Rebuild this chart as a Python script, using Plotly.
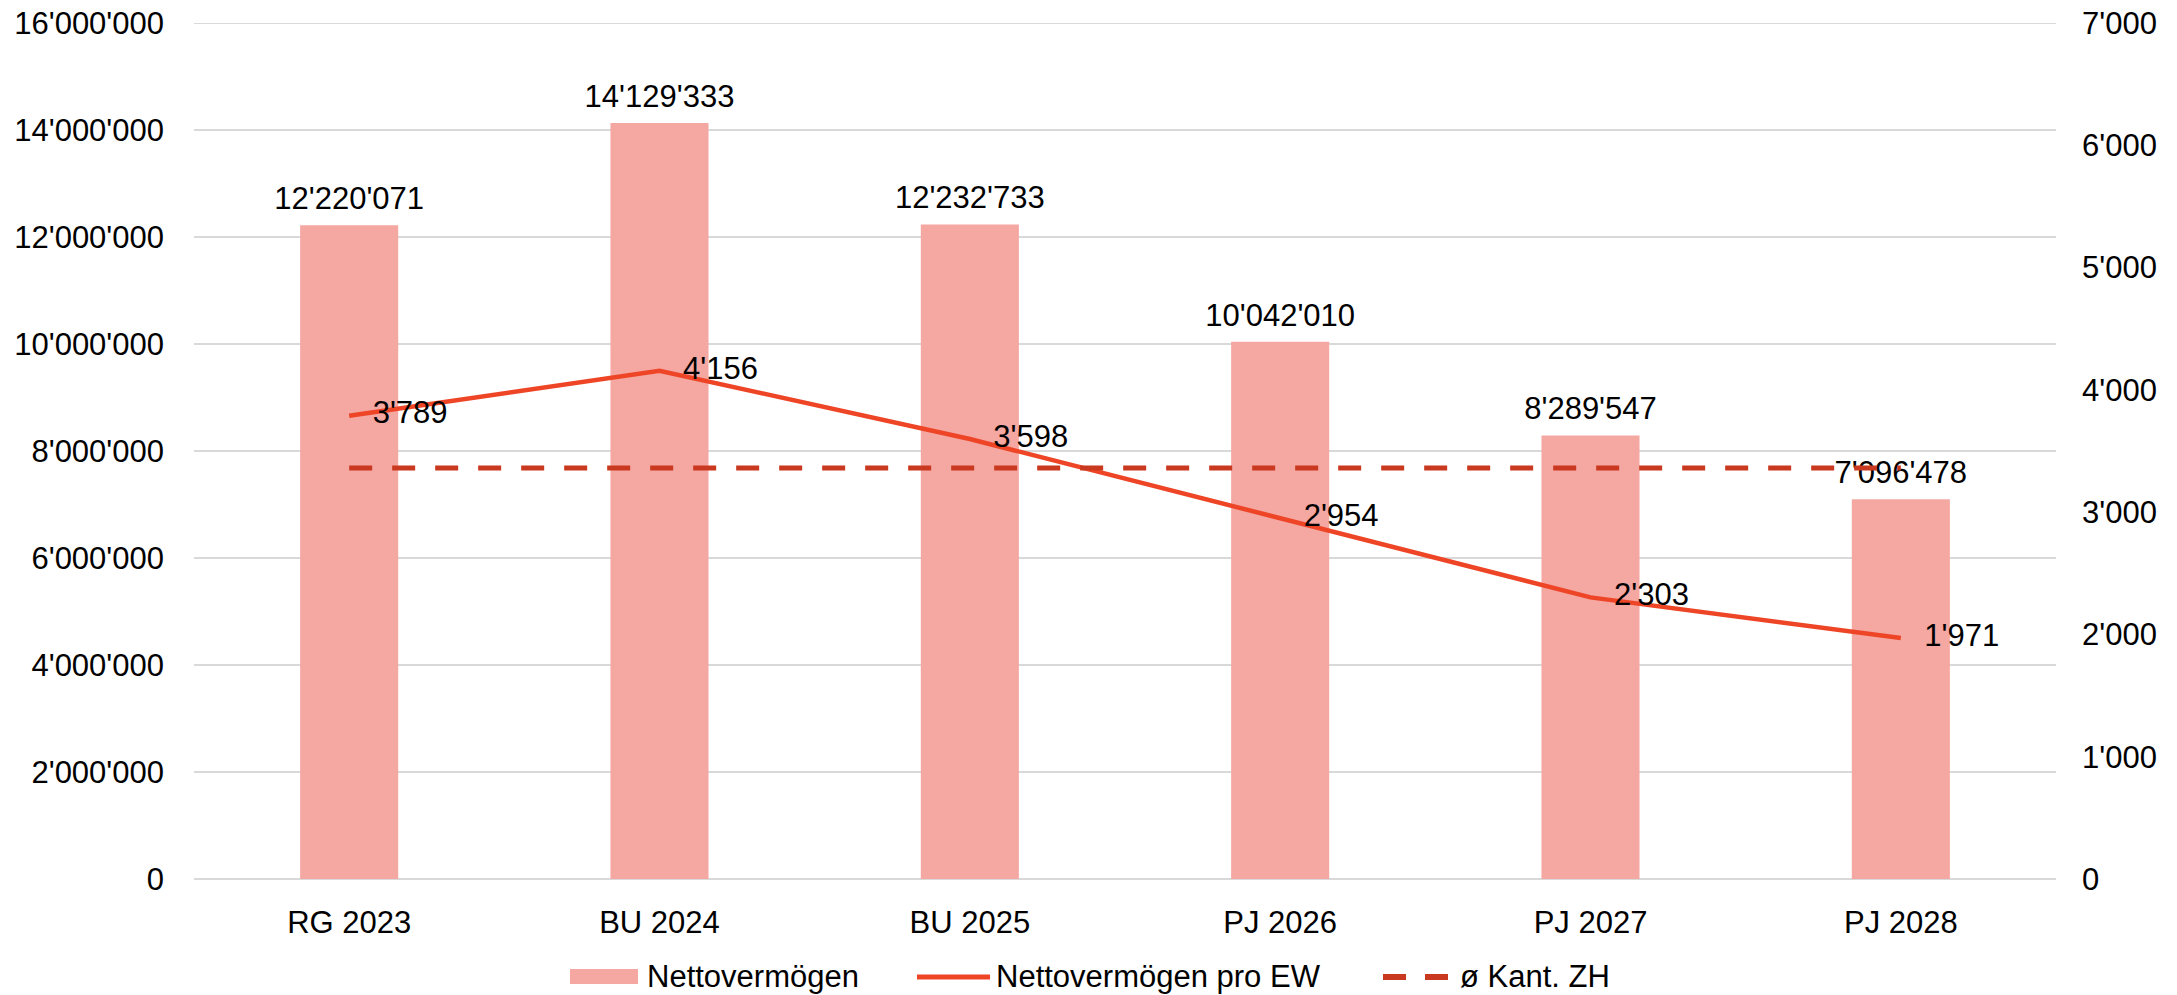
import plotly.graph_objects as go

categories = ["RG 2023", "BU 2024", "BU 2025", "PJ 2026", "PJ 2027", "PJ 2028"]
nettovermoegen = [12220071, 14129333, 12232733, 10042010, 8289547, 7096478]
pro_ew = [3789, 4156, 3598, 2954, 2303, 1971]
kant_zh = [3360, 3360, 3360, 3360, 3360, 3360]

left_ticks = [0, 2000000, 4000000, 6000000, 8000000, 10000000, 12000000, 14000000, 16000000]
right_ticks = [0, 1000, 2000, 3000, 4000, 5000, 6000, 7000]

series_names = ["Nettovermögen", "Nettovermögen pro EW", "ø Kant. ZH"]
BAR_COLOR = "#F5A7A2"
LINE_COLOR = "#EE4527"
DASH_COLOR = "#C9391F"
GRID_COLOR = "#D9D9D9"


def fmt(v):
    return f"{v:,}".replace(",", "'")


FONT = "Liberation Sans, Arial, sans-serif"
FS = 31
W, H = 2177, 995
ML, MT = 194, 23
MR = W - 2056
MB = H - 879
PW = W - ML - MR
PH = H - MT - MB

fig = go.Figure()
fig.add_trace(go.Bar(
    x=categories, y=nettovermoegen, name=series_names[0],
    marker=dict(color=BAR_COLOR, line=dict(width=0)),
    yaxis="y", showlegend=False,
))
fig.add_trace(go.Scatter(
    x=categories, y=nettovermoegen, name=series_names[0] + " labels", mode="markers+text",
    marker=dict(size=12, color="rgba(0,0,0,0)"),
    text=[fmt(v) for v in nettovermoegen], textposition="top center",
    textfont=dict(family=FONT, size=FS, color="#000000"),
    yaxis="y", cliponaxis=False, showlegend=False, hoverinfo="skip",
))
fig.add_trace(go.Scatter(
    x=categories, y=pro_ew, name=series_names[1], mode="lines+markers+text",
    line=dict(color=LINE_COLOR, width=4.5),
    marker=dict(size=36, color="rgba(0,0,0,0)"),
    text=[fmt(v) for v in pro_ew], textposition="middle right",
    textfont=dict(family=FONT, size=FS, color="#000000"),
    yaxis="y2", cliponaxis=False, showlegend=False,
))
fig.add_trace(go.Scatter(
    x=categories, y=kant_zh, name=series_names[2], mode="lines",
    line=dict(color=DASH_COLOR, width=5, dash="23px,20px"),
    yaxis="y2", showlegend=False,
))


# custom legend (pixel layout converted to paper coordinates)
def px(x):
    return (x - ML) / PW


def py(y):
    return (H - MB - y) / PH


ly = 977
shapes = [
    # top gridline (plotly skips grid lines lying on the plot edge)
    dict(type="line", xref="paper", yref="y", x0=0, x1=1, y0=left_ticks[-1], y1=left_ticks[-1],
         line=dict(color=GRID_COLOR, width=2), layer="below"),
    dict(type="rect", xref="paper", yref="paper", x0=px(570), x1=px(638), y0=py(984), y1=py(969),
         fillcolor=BAR_COLOR, line=dict(width=0)),
    dict(type="line", xref="paper", yref="paper", x0=px(917), x1=px(990), y0=py(ly), y1=py(ly),
         line=dict(color=LINE_COLOR, width=5)),
    dict(type="line", xref="paper", yref="paper", x0=px(1383), x1=px(1406), y0=py(ly), y1=py(ly),
         line=dict(color=DASH_COLOR, width=6)),
    dict(type="line", xref="paper", yref="paper", x0=px(1425), x1=px(1448), y0=py(ly), y1=py(ly),
         line=dict(color=DASH_COLOR, width=6)),
]
annotations = [
    dict(xref="paper", yref="paper", x=px(x0), y=py(ly), xanchor="left", yanchor="middle",
         text=t, showarrow=False, font=dict(family=FONT, size=FS, color="#000000"))
    for x0, t in zip([645, 994, 1458], series_names)
]

fig.update_layout(
    width=W, height=H,
    margin=dict(l=ML, r=MR, t=MT, b=MB),
    paper_bgcolor="white", plot_bgcolor="white",
    font=dict(family=FONT, size=FS, color="#000000"),
    bargap=0.684,
    showlegend=False,
    shapes=shapes, annotations=annotations,
    xaxis=dict(showgrid=False, showline=False, ticks="", tickfont=dict(size=FS),
               ticklabelstandoff=22, automargin=False),
    yaxis=dict(range=[0, 16000000], tickvals=left_ticks, ticktext=[fmt(v) for v in left_ticks],
               showgrid=True, gridcolor=GRID_COLOR, gridwidth=2, zeroline=True,
               zerolinecolor=GRID_COLOR, zerolinewidth=2, ticks="", ticklabelstandoff=29,
               automargin=False, ticklabeloverflow="allow"),
    yaxis2=dict(range=[0, 7000], tickvals=right_ticks, ticktext=[fmt(v) for v in right_ticks],
                overlaying="y", side="right", showgrid=False, zeroline=False, ticks="",
                ticklabelstandoff=25, automargin=False, ticklabeloverflow="allow"),
)

fig.write_html(
    "out.html",
    config={"displayModeBar": False},
    post_script="document.body.style.margin='0';document.body.style.overflow='hidden';",
)
